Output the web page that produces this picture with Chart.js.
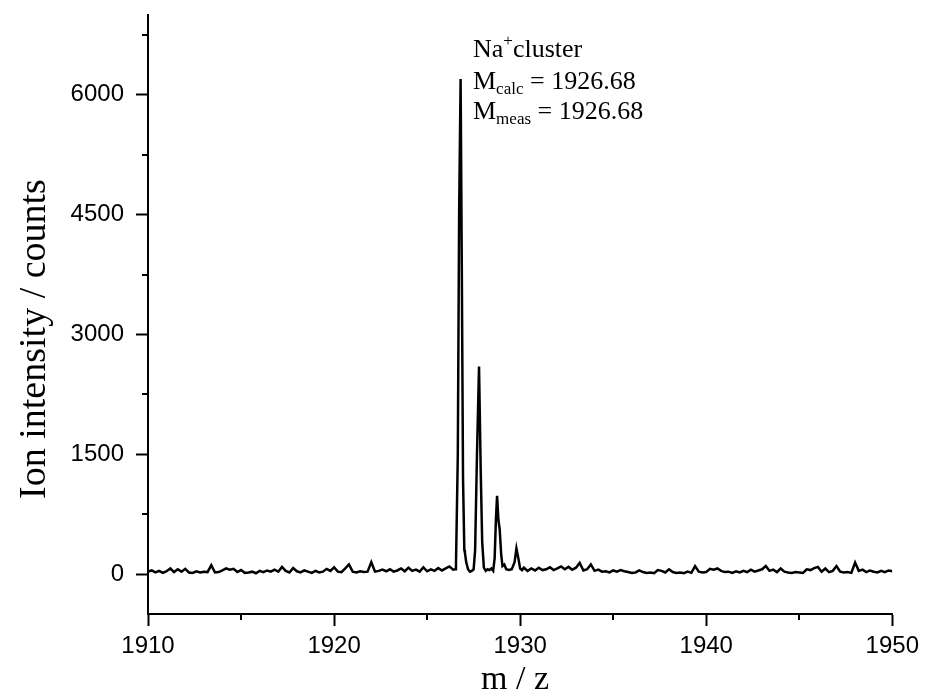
<!DOCTYPE html>
<html>
<head>
<meta charset="utf-8">
<title>Na+ cluster spectrum</title>
<script src="https://cdn.jsdelivr.net/npm/chart.js@4.4.1/dist/chart.umd.min.js"></script>
<style>
    html, body { margin: 0; padding: 0; background: #fff; }
    #wrap { width: 925px; height: 697px; }
</style>
</head>
<body>
<div id="wrap"><canvas id="spectrum" width="925" height="697"></canvas></div>
<script>
// spectrum below the cluster (baseline noise)
const mzLow = [1910.0, 1910.2, 1910.4, 1910.6, 1910.8, 1911.0, 1911.2, 1911.4, 1911.6, 1911.8,
    1912.0, 1912.2, 1912.4, 1912.6, 1912.8, 1913.0, 1913.2, 1913.4, 1913.6, 1913.8,
    1914.0, 1914.2, 1914.4, 1914.6, 1914.8, 1915.0, 1915.2, 1915.4, 1915.6, 1915.8,
    1916.0, 1916.2, 1916.4, 1916.6, 1916.8, 1917.0, 1917.2, 1917.4, 1917.6, 1917.8,
    1918.0, 1918.2, 1918.4, 1918.6, 1918.8, 1919.0, 1919.2, 1919.4, 1919.6, 1919.8,
    1920.0, 1920.2, 1920.4, 1920.6, 1920.8, 1921.0, 1921.2, 1921.4, 1921.6, 1921.8,
    1922.0, 1922.2, 1922.4, 1922.6, 1922.8, 1923.0, 1923.2, 1923.4, 1923.6, 1923.8,
    1924.0, 1924.2, 1924.4, 1924.6, 1924.8, 1925.0, 1925.2, 1925.4, 1925.6, 1925.8,
    1926.0, 1926.2, 1926.4];
const countsLow = [30, 45, 20, 40, 15, 35, 70, 25, 60, 30,
    65, 20, 15, 35, 20, 30, 25, 110, 20, 25,
    45, 70, 55, 65, 25, 50, 15, 20, 30, 10,
    40, 25, 45, 30, 55, 30, 90, 40, 20, 75,
    35, 20, 45, 30, 15, 40, 20, 30, 65, 40,
    85, 30, 25, 70, 120, 30, 20, 35, 25, 30,
    150, 30, 40, 55, 35, 60, 30, 45, 70, 35,
    80, 40, 55, 30, 85, 35, 60, 40, 75, 45,
    70, 95, 55];

// isotope cluster
const mzCluster = [1926.5, 1926.55, 1926.65, 1926.72, 1926.8, 1926.86, 1926.93, 1927.0, 1927.03, 1927.1,
    1927.2, 1927.3, 1927.4, 1927.5, 1927.58, 1927.68, 1927.79, 1927.88, 1927.96, 1928.05,
    1928.15, 1928.25, 1928.35, 1928.45, 1928.55, 1928.63, 1928.7, 1928.76, 1928.83, 1928.9,
    1928.98, 1929.05, 1929.15, 1929.25, 1929.4, 1929.55, 1929.7, 1929.8, 1929.9, 1930.0,
    1930.1, 1930.2, 1930.4];
const countsCluster = [60, 90, 1500, 4500, 6200, 4000, 1200, 300, 270, 150,
    60, 30, 40, 60, 300, 1500, 2600, 1300, 400, 80,
    40, 60, 50, 70, 40, 200, 700, 980, 680, 560,
    250, 100, 120, 60, 50, 60, 150, 320, 200, 70,
    50, 80, 40];

// spectrum above the cluster
const mzHigh = [1930.6, 1930.8, 1931.0, 1931.2, 1931.4, 1931.6, 1931.8, 1932.0, 1932.2, 1932.4,
    1932.6, 1932.8, 1933.0, 1933.2, 1933.4, 1933.6, 1933.8, 1934.0, 1934.2, 1934.4,
    1934.6, 1934.8, 1935.0, 1935.2, 1935.4, 1935.6, 1935.8, 1936.0, 1936.2, 1936.4,
    1936.6, 1936.8, 1937.0, 1937.2, 1937.4, 1937.6, 1937.8, 1938.0, 1938.2, 1938.4,
    1938.6, 1938.8, 1939.0, 1939.2, 1939.4, 1939.6, 1939.8, 1940.0, 1940.2, 1940.4,
    1940.6, 1940.8, 1941.0, 1941.2, 1941.4, 1941.6, 1941.8, 1942.0, 1942.2, 1942.4,
    1942.6, 1942.8, 1943.0, 1943.2, 1943.4, 1943.6, 1943.8, 1944.0, 1944.2, 1944.4,
    1944.6, 1944.8, 1945.0, 1945.2, 1945.4, 1945.6, 1945.8, 1946.0, 1946.2, 1946.4,
    1946.6, 1946.8, 1947.0, 1947.2, 1947.4, 1947.6, 1947.8, 1948.0, 1948.2, 1948.4,
    1948.6, 1948.8, 1949.0, 1949.2, 1949.4, 1949.6, 1949.8, 1950.0];
const countsHigh = [70, 45, 80, 50, 60, 85, 50, 70, 95, 60,
    90, 55, 80, 140, 45, 60, 120, 40, 55, 30,
    35, 20, 45, 30, 50, 35, 25, 15, 20, 45,
    25, 15, 20, 10, 50, 40, 20, 60, 25, 15,
    20, 10, 30, 15, 100, 30, 20, 25, 65, 55,
    70, 40, 25, 30, 15, 35, 20, 40, 25, 55,
    30, 45, 60, 100, 40, 55, 25, 70, 30, 20,
    15, 25, 20, 15, 60, 50, 75, 90, 30, 70,
    25, 40, 100, 30, 20, 25, 15, 145, 40, 55,
    25, 45, 30, 20, 40, 25, 45, 35];

const xMajorTicks = [1910, 1920, 1930, 1940, 1950];
const xMinorTicks = [1915, 1925, 1935, 1945];
const yMajorTicks = [0, 1500, 3000, 4500, 6000];
const yMinorTicks = [750, 2250, 3750, 5250, 6750];

const SERIF = '"Liberation Serif", "Times New Roman", serif';
const SANS = '"Liberation Sans", Arial, sans-serif';

function toPoints(xs, ys) {
    return xs.map((x, i) => ({ x: x, y: ys[i] }));
}

const spectrumPoints = toPoints(mzLow, countsLow)
    .concat(toPoints(mzCluster, countsCluster))
    .concat(toPoints(mzHigh, countsHigh));

// minor ticks, axis titles and the peak annotation
const decorations = {
    id: 'decorations',
    afterDraw(chart) {
        const ctx = chart.ctx;
        const xs = chart.scales.x;
        const ys = chart.scales.y;
        const area = chart.chartArea;

        ctx.save();
        ctx.strokeStyle = '#000';
        ctx.lineWidth = 2;
        ctx.beginPath();
        yMinorTicks.forEach(v => {
            const py = Math.round(ys.getPixelForValue(v));
            ctx.moveTo(area.left - 6, py);
            ctx.lineTo(area.left, py);
        });
        xMinorTicks.forEach(v => {
            const px = Math.round(xs.getPixelForValue(v));
            ctx.moveTo(px, area.bottom);
            ctx.lineTo(px, area.bottom + 6);
        });
        ctx.stroke();

        ctx.fillStyle = '#000';
        ctx.textAlign = 'center';
        ctx.textBaseline = 'middle';
        ctx.font = '34px ' + SERIF;
        ctx.fillText('m / z', 515, 680);

        ctx.save();
        ctx.translate(35, 339);
        ctx.rotate(-Math.PI / 2);
        ctx.font = '38px ' + SERIF;
        ctx.fillText('Ion intensity / counts', 0, 0);
        ctx.restore();

        // annotation
        ctx.textAlign = 'left';
        ctx.textBaseline = 'alphabetic';
        let x = 473;
        ctx.font = '26px ' + SERIF;
        ctx.fillText('Na', x, 57);
        x += ctx.measureText('Na').width;
        ctx.font = '17px ' + SERIF;
        ctx.fillText('+', x, 46);
        x += ctx.measureText('+').width;
        ctx.font = '26px ' + SERIF;
        ctx.fillText('cluster', x, 57);

        [['calc', 89], ['meas', 119]].forEach(([sub, base]) => {
            let lx = 473;
            ctx.font = '26px ' + SERIF;
            ctx.fillText('M', lx, base);
            lx += ctx.measureText('M').width;
            ctx.font = '17px ' + SERIF;
            ctx.fillText(sub, lx, base + 5);
            lx += ctx.measureText(sub).width;
            ctx.font = '26px ' + SERIF;
            ctx.fillText(' = 1926.68', lx, base);
        });
        ctx.restore();
    }
};

new Chart(document.getElementById('spectrum'), {
    type: 'line',
    data: {
        datasets: [{
            data: spectrumPoints,
            borderColor: '#000',
            borderWidth: 2.5,
            pointRadius: 0,
            tension: 0,
            fill: false
        }]
    },
    options: {
        responsive: false,
        animation: false,
        devicePixelRatio: 1,
        layout: { padding: { left: 0, right: 27, top: 15, bottom: 0 } },
        plugins: {
            legend: { display: false },
            tooltip: { enabled: false }
        },
        scales: {
            x: {
                type: 'linear',
                min: 1910,
                max: 1950,
                afterBuildTicks: scale => { scale.ticks = xMajorTicks.map(v => ({ value: v })); },
                afterFit: scale => { scale.height = 83; },
                grid: { drawOnChartArea: false, drawTicks: true, tickLength: 12, tickColor: '#000', tickWidth: 2 },
                border: { display: true, color: '#000', width: 2 },
                ticks: {
                    color: '#000',
                    font: { family: SANS, size: 24 },
                    padding: 6,
                    maxRotation: 0,
                    autoSkip: false,
                    callback: v => String(v)
                }
            },
            y: {
                type: 'linear',
                min: -500,
                max: 7000,
                afterBuildTicks: scale => { scale.ticks = yMajorTicks.map(v => ({ value: v })); },
                afterFit: scale => {
                    scale.width = 148;
                    scale.paddingTop = 0;
                    scale.paddingBottom = 0;
                },
                grid: { drawOnChartArea: false, drawTicks: true, tickLength: 12, tickColor: '#000', tickWidth: 2 },
                border: { display: true, color: '#000', width: 2 },
                ticks: {
                    color: '#000',
                    font: { family: SANS, size: 24 },
                    padding: 12,
                    autoSkip: false,
                    callback: v => String(v)
                }
            }
        }
    },
    plugins: [decorations]
});
</script>
</body>
</html>
